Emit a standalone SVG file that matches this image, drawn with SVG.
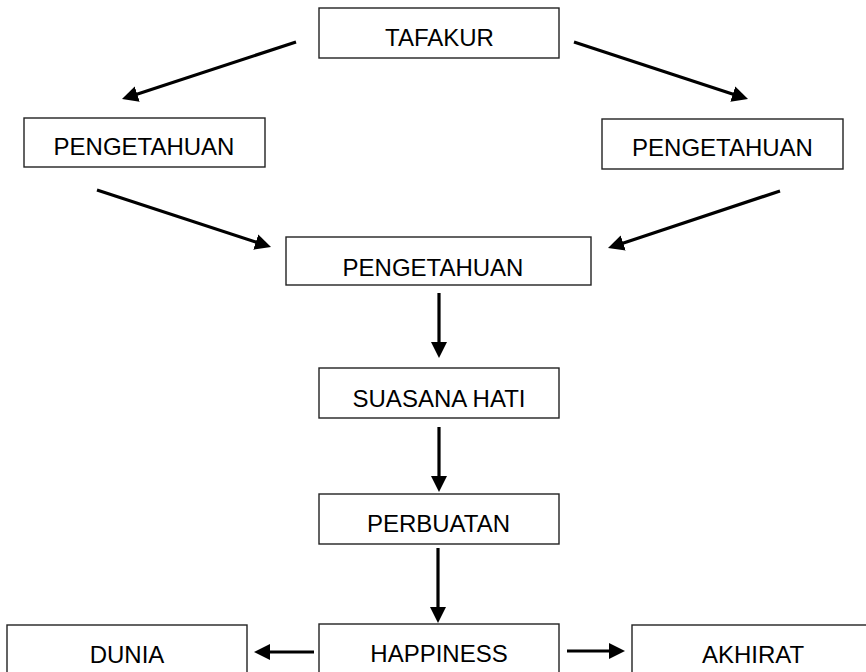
<svg xmlns="http://www.w3.org/2000/svg" width="866" height="672" viewBox="0 0 866 672">
<defs>
<style>
.box{fill:#fff;stroke:#222;stroke-width:1.4}
.t{font-family:"Liberation Sans",Arial,sans-serif;font-size:24px;fill:#000;text-anchor:middle}
.c{stroke:#000;stroke-width:3.2;fill:none;marker-end:url(#ah)}
</style>
<marker id="ah" markerUnits="userSpaceOnUse" markerWidth="16" markerHeight="16" refX="6" refY="8" orient="auto" viewBox="0 0 16 16">
<path d="M0,0 L16,8 L0,16 z" fill="#000"/>
</marker>
</defs>
<rect width="866" height="672" fill="#fff"/>
<g id="connectors">
<line class="c" x1="296" y1="42" x2="131.5" y2="95.9"/>
<line class="c" x1="574" y1="42" x2="738.5" y2="95.9"/>
<line class="c" x1="97" y1="190" x2="261.5" y2="243.9"/>
<line class="c" x1="780" y1="191" x2="617.5" y2="244.9"/>
<line class="c" x1="439" y1="293" x2="439" y2="348"/>
<line class="c" x1="439" y1="427" x2="439" y2="482"/>
<line class="c" x1="438" y1="548" x2="438" y2="613"/>
<line class="c" x1="314" y1="652" x2="264" y2="652"/>
<line class="c" x1="567" y1="651" x2="615" y2="651"/>
</g>
<g id="tafakur"><rect class="box" x="319" y="8" width="240" height="50"/><text class="t" x="439.5" y="46">TAFAKUR</text></g>
<g id="pengetahuan-left"><rect class="box" x="24" y="118" width="241" height="49"/><text class="t" x="144" y="155">PENGETAHUAN</text></g>
<g id="pengetahuan-right"><rect class="box" x="602" y="119" width="241" height="50"/><text class="t" x="722.5" y="156">PENGETAHUAN</text></g>
<g id="pengetahuan-center"><rect class="box" x="286" y="237" width="305" height="48"/><text class="t" x="433" y="276">PENGETAHUAN</text></g>
<g id="suasana-hati"><rect class="box" x="319" y="368" width="240" height="50"/><text class="t" x="439" y="407">SUASANA HATI</text></g>
<g id="perbuatan"><rect class="box" x="319" y="494" width="240" height="50"/><text class="t" x="438.5" y="532">PERBUATAN</text></g>
<g id="happiness"><rect class="box" x="319" y="624" width="240" height="60"/><text class="t" x="439" y="662">HAPPINESS</text></g>
<g id="dunia"><rect class="box" x="7" y="625" width="240" height="60"/><text class="t" x="127" y="663">DUNIA</text></g>
<g id="akhirat"><rect class="box" x="632" y="625" width="240" height="60"/><text class="t" x="753" y="663">AKHIRAT</text></g>
</svg>
